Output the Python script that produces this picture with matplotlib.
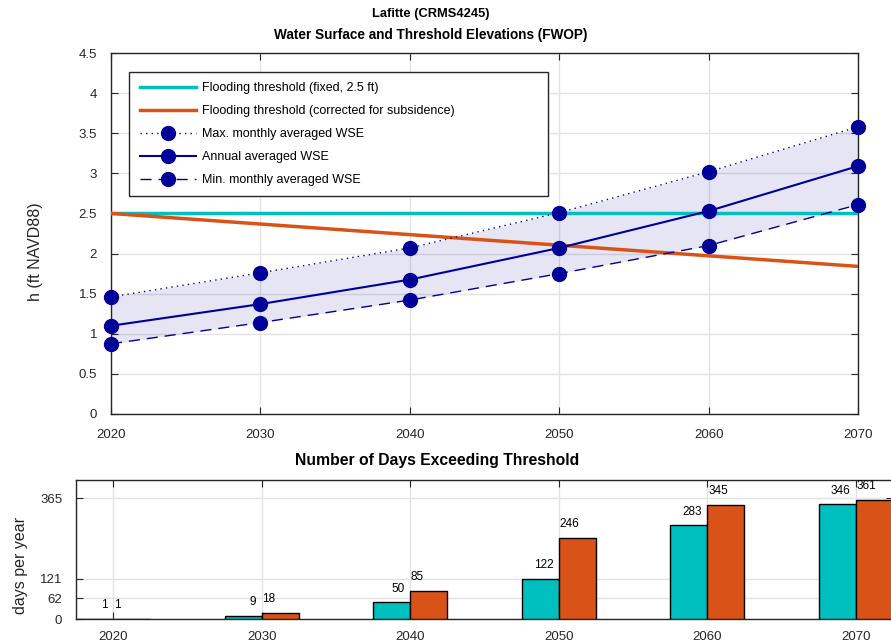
import matplotlib
matplotlib.use("Agg")
import matplotlib.pyplot as plt
from matplotlib.patches import Rectangle
import numpy as np

plt.rcParams['font.family'] = ['Liberation Sans', 'DejaVu Sans']

# ---- data ----
years = [2020, 2030, 2040, 2050, 2060, 2070]
wse_max = [1.46, 1.76, 2.07, 2.51, 3.02, 3.58]
wse_annual = [1.10, 1.37, 1.675, 2.07, 2.53, 3.09]
wse_min = [0.875, 1.14, 1.42, 1.75, 2.10, 2.61]
thr_fixed_years = [2020, 2070]
thr_fixed = [2.5, 2.5]
thr_sub_years = [2020, 2070]
thr_sub = [2.5, 1.84]
days_fixed = [1, 9, 50, 122, 283, 346]
days_sub = [1, 18, 85, 246, 345, 361]
days_ticks = [0, 62, 121, 365]

CYAN = '#00BFBF'
ORANGE = '#D95319'
NAVY = '#000099'
FRAME = '#262626'
GRID = '#e3e3e3'

fig = plt.figure(figsize=(8.91, 6.44), dpi=100)
W, H = 891, 644

def pos(l, r, t, b):
    return [l / W, 1 - b / H, (r - l) / W, (b - t) / H]

# ---- top axes ----
AL, AR, AT, AB = 111, 858, 53, 414
ax = fig.add_axes(pos(AL, AR, AT, AB))
ax.fill_between(years, wse_min, wse_max, color=NAVY, alpha=0.1, linewidth=0)
ax.plot(thr_fixed_years, thr_fixed, color=CYAN, lw=2.5, label='Flooding threshold (fixed, 2.5 ft)', zorder=3)
ax.plot(thr_sub_years, thr_sub, color=ORANGE, lw=2.5, label='Flooding threshold (corrected for subsidence)', zorder=3)
ax.plot(years, wse_max, color=NAVY, ls=(0, (1, 3)), lw=1.0, marker='o', ms=10,
        label='Max. monthly averaged WSE', zorder=4, clip_on=False)
ax.plot(years, wse_annual, color=NAVY, ls='-', lw=1.5, marker='o', ms=10,
        label='Annual averaged WSE', zorder=4, clip_on=False)
ax.plot(years, wse_min, color=NAVY, ls=(0, (8, 5)), lw=1.0, marker='o', ms=10,
        label='Min. monthly averaged WSE', zorder=4, clip_on=False)
ax.set_xlim(2020, 2070)
ax.set_ylim(0, 4.5)
ax.set_xticks(years)
ax.set_yticks(np.arange(0, 4.51, 0.5))
ax.set_yticklabels(['0', '0.5', '1', '1.5', '2', '2.5', '3', '3.5', '4', '4.5'])
ax.set_ylabel('h (ft NAVD88)', fontsize=11.5, color=FRAME)
ax.yaxis.set_label_coords((43 - AL) / (AR - AL), (AB - 252) / (AB - AT))
ax.grid(True, color=GRID, lw=1)
ax.set_axisbelow(True)
ax.tick_params(direction='in', top=True, right=True, length=5, colors=FRAME,
               labelsize=9.5)
ax.tick_params(axis='y', pad=10)
ax.tick_params(axis='x', pad=11)
for s in ax.spines.values():
    s.set_color(FRAME)
    s.set_linewidth(1.0)

# legend frame drawn as a rectangle in pixel-derived axes coordinates
LL, LR, LT, LB = 129, 548, 72, 196
rect = Rectangle(((LL - AL) / (AR - AL), (AB - LB) / (AB - AT)),
                 (LR - LL) / (AR - AL), (LB - LT) / (AB - AT),
                 transform=ax.transAxes, facecolor='white', edgecolor=FRAME,
                 lw=1.0, zorder=9)
ax.add_patch(rect)
leg = ax.legend(loc='upper left',
                bbox_to_anchor=((LL + 11 - AL) / (AR - AL), (AB - LT - 10) / (AB - AT)),
                fontsize=9, frameon=False, borderpad=0, labelspacing=0.88,
                handlelength=4.5, handletextpad=0.5, borderaxespad=0)
leg.set_zorder(10)

fig.text(431 / W, 1 - 14 / H, 'Lafitte (CRMS4245)', ha='center', va='center',
         fontsize=9.3, fontweight='bold')
fig.text(431 / W, 1 - 35.5 / H, 'Water Surface and Threshold Elevations (FWOP)',
         ha='center', va='center', fontsize=9.8, fontweight='bold')

# ---- bottom axes ----
BL, BR, BT, BB = 76, 893, 480, 619
bx = fig.add_axes(pos(BL, BR, BT, BB))
bw = 2.5
x = np.array(years, dtype=float)
bx.bar(x - bw / 2, days_fixed, width=bw, color=CYAN, edgecolor='black', lw=1.0, zorder=3)
bx.bar(x + bw / 2, days_sub, width=bw, color=ORANGE, edgecolor='black', lw=1.0, zorder=3)
for xi, v in zip(x, days_fixed):
    bx.text(xi - 0.35, v + 41, str(v), ha='right', va='center', fontsize=8.5, color='black')
for xi, v in zip(x, days_sub):
    bx.text(xi + 0.05, v + 41, str(v), ha='left', va='center', fontsize=8.5, color='black')
bx.set_xlim(2017.5, 2072.5)
bx.set_ylim(0, 420)
bx.set_xticks(years)
bx.set_yticks(days_ticks)
bx.set_ylabel('days per year', fontsize=11.5, color=FRAME)
bx.yaxis.set_label_coords((28 - BL) / (BR - BL), (BB - 566) / (BB - BT))
fig.text(437 / W, 1 - 461 / H, 'Number of Days Exceeding Threshold',
         ha='center', va='center', fontsize=11.3, fontweight='bold')
bx.grid(True, color=GRID, lw=1)
bx.set_axisbelow(True)
bx.tick_params(direction='in', top=True, right=True, length=5, colors=FRAME,
               labelsize=9.5)
bx.tick_params(axis='y', pad=10)
bx.tick_params(axis='x', pad=9)
for s in bx.spines.values():
    s.set_color(FRAME)
    s.set_linewidth(1.0)

fig.savefig('out.png', dpi=100)
